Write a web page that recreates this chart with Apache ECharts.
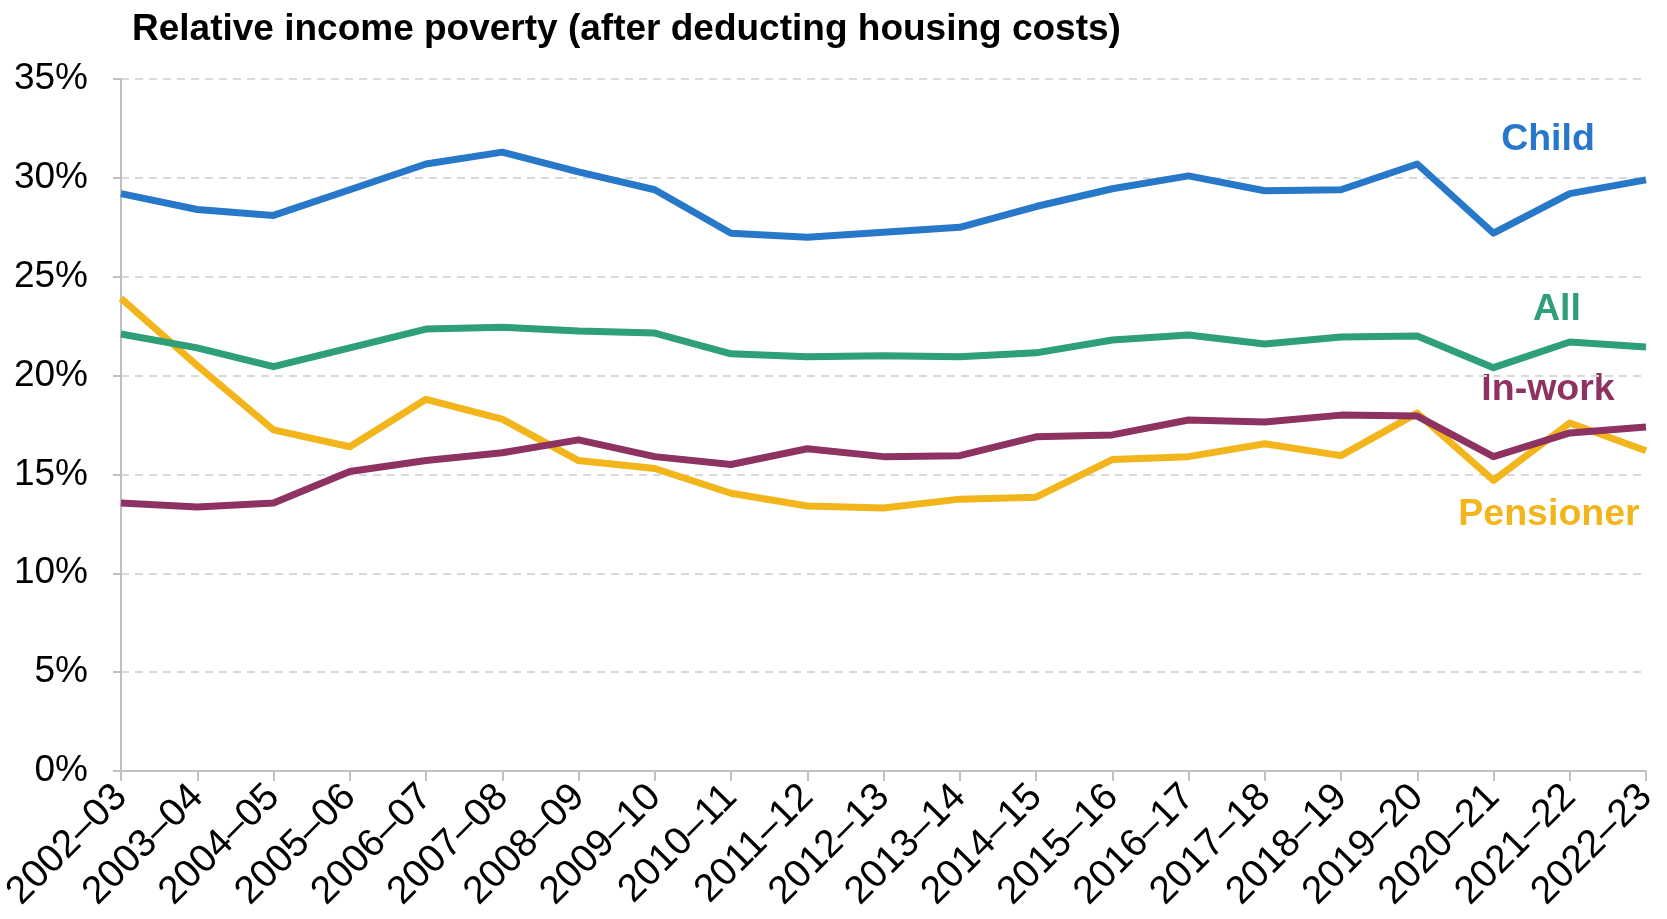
<!DOCTYPE html>
<html>
<head>
<meta charset="utf-8">
<script src="https://cdn.jsdelivr.net/npm/echarts@6/dist/echarts.min.js"></script>
<style>
  html, body { margin: 0; padding: 0; background: #ffffff; }
  #chart { width: 1667px; height: 919px; }
</style>
</head>
<body>
<div id="chart"></div>
<script>
// Financial years
const years = [
  '2002–03', '2003–04', '2004–05', '2005–06', '2006–07', '2007–08', '2008–09',
  '2009–10', '2010–11', '2011–12', '2012–13', '2013–14', '2014–15', '2015–16',
  '2016–17', '2017–18', '2018–19', '2019–20', '2020–21', '2021–22', '2022–23'
];

// Share of each group in relative poverty (AHC), %
const child = [29.2, 28.4, 28.1, 29.4, 30.7, 31.3, 30.3, 29.4, 27.2, 27.0, 27.25,
  27.5, 28.55, 29.45, 30.1, 29.35, 29.4, 30.7, 27.2, 29.2, 29.9];
const all = [22.1, 21.4, 20.45, 21.4, 22.35, 22.45, 22.25, 22.15, 21.1, 20.95, 21.0,
  20.95, 21.15, 21.8, 22.05, 21.6, 21.95, 22.0, 20.4, 21.7, 21.45];
const inWork = [13.55, 13.35, 13.55, 15.15, 15.7, 16.1, 16.75, 15.9, 15.5, 16.3, 15.9,
  15.95, 16.9, 17.0, 17.75, 17.65, 18.0, 17.95, 15.9, 17.1, 17.4];
const pensioner = [23.9, 20.5, 17.25, 16.4, 18.8, 17.8, 15.7, 15.3, 14.05, 13.4, 13.3,
  13.75, 13.85, 15.75, 15.9, 16.55, 15.95, 18.1, 14.7, 17.6, 16.2];

// Y-axis ticks
const yTicks = { min: 0, max: 35, step: 5 };

const colors = {
  child: '#2878CA',
  all: '#2E9F76',
  inWork: '#8E3261',
  pensioner: '#F2B51B'
};

const font = 'Arial, "Liberation Sans", Helvetica, sans-serif';

const chart = echarts.init(document.getElementById('chart'), null, { renderer: 'canvas' });

function lineSeries(name, data, color) {
  return {
    name: name,
    type: 'line',
    data: data,
    symbol: 'none',
    smooth: false,
    lineStyle: { color: color, width: 7, join: 'round' },
    itemStyle: { color: color },
    emphasis: { disabled: true },
    animation: false
  };
}

// Series name drawn beside the right end of its line
function seriesLabel(text, color, cx, cy) {
  return {
    type: 'text',
    x: cx,
    y: cy,
    style: {
      text: text,
      fill: color,
      font: 'bold 37.5px ' + font,
      textAlign: 'center',
      textVerticalAlign: 'middle'
    }
  };
}

chart.setOption({
  backgroundColor: '#ffffff',
  animation: false,
  title: {
    text: 'Relative income poverty (after deducting housing costs)',
    left: 127,
    top: 6,
    textStyle: {
      fontFamily: font,
      fontWeight: 'bold',
      fontSize: 37,
      color: '#000000'
    }
  },
  grid: {
    left: 121,
    right: 21,
    top: 79,
    bottom: 148,
    containLabel: false,
    outerBoundsMode: 'none'
  },
  xAxis: {
    type: 'category',
    data: years,
    boundaryGap: false,
    axisLine: { show: true, lineStyle: { color: '#BFBFBF', width: 2 } },
    axisTick: { show: true, length: 10, lineStyle: { color: '#BFBFBF', width: 2 } },
    axisLabel: {
      rotate: 45,
      interval: 0,
      margin: 20,
      fontFamily: font,
      fontSize: 39,
      color: '#000000'
    },
    splitLine: { show: false }
  },
  yAxis: {
    type: 'value',
    min: yTicks.min,
    max: yTicks.max,
    interval: yTicks.step,
    axisLine: { show: true, lineStyle: { color: '#BFBFBF', width: 2 } },
    axisTick: { show: true, length: 8, lineStyle: { color: '#BFBFBF', width: 2 } },
    axisLabel: {
      formatter: '{value}%',
      margin: 33,
      fontFamily: font,
      fontSize: 37,
      color: '#000000'
    },
    splitLine: {
      show: true,
      lineStyle: { color: '#D9D9D9', width: 2, type: [8, 6] }
    }
  },
  series: [
    lineSeries('Pensioner', pensioner, colors.pensioner),
    lineSeries('In-work', inWork, colors.inWork),
    lineSeries('All', all, colors.all),
    lineSeries('Child', child, colors.child)
  ],
  graphic: [
    seriesLabel('Child', colors.child, 1548, 140),
    seriesLabel('All', colors.all, 1557, 310),
    seriesLabel('In-work', colors.inWork, 1548, 390),
    seriesLabel('Pensioner', colors.pensioner, 1549, 515)
  ]
});
</script>
</body>
</html>
